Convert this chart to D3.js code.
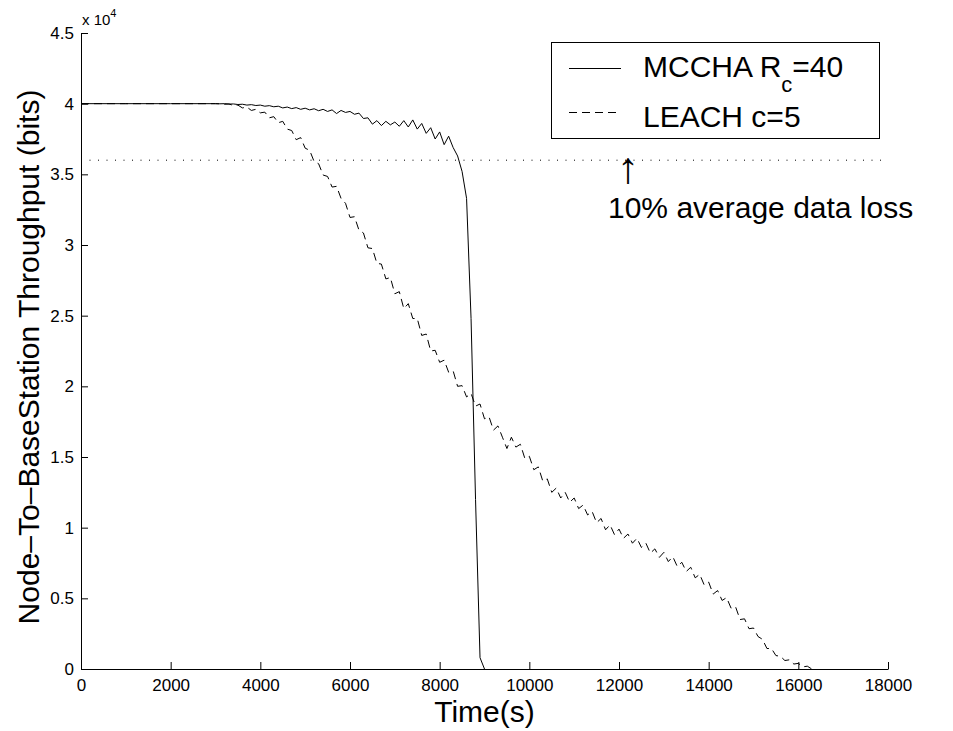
<html>
<head>
<script src="https://d3js.org/d3.v7.min.js"></script>
<style>
  body { margin: 0; background: #fff; }
  svg text { font-family: "Liberation Sans", Arial, Helvetica, sans-serif; fill: #000; }
</style>
</head>
<body>
<svg id="plot"></svg>
<script>
// ---- data ----
// x ticks (seconds) and y ticks (bits, shown as x 10^4)
var xTicks = [0, 2000, 4000, 6000, 8000, 10000, 12000, 14000, 16000, 18000];
var yTicks = [0, 5000, 10000, 15000, 20000, 25000, 30000, 35000, 40000, 45000];
var lossLevel = 36000;   // 10% average data loss line

// MCCHA Rc=40 (solid): flat part, then 100 s steps from 3000 to 9000
var mcchaTime = [0, 1000, 2000].concat(d3.range(3000, 9001, 100));
var mcchaValue = [40000, 40000, 40000,
  40000, 39990, 40000, 39970, 39980, 39940, 39960, 39900, 39930, 39870,
  39900, 39820, 39860, 39780, 39820, 39700, 39760, 39650, 39720, 39600,
  39680, 39560, 39640, 39500, 39600, 39450, 39560, 39300, 39520, 39380,
  39450, 39250, 39330, 38950, 39000, 38550, 38800, 38450, 38750, 38500,
  38700, 38400, 38800, 38350, 38850, 38200, 38600, 37900, 38300, 37500,
  38000, 37100, 37700, 36900, 36300, 35200, 33300, 24800, 12000, 800,
  0];

// LEACH c=5 (dashed): flat part, then 100 s steps from 3000 to 16400
var leachTime = [0, 1000, 2000].concat(d3.range(3000, 16401, 100));
var leachValue = [40000, 40000, 40000,
  40000, 39990, 39960, 39980, 39870, 39900, 39700, 39760, 39520, 39600,
  39350, 39400, 39000, 39080, 38650, 38750, 38200, 38100, 37450, 37600,
  36850, 36700, 35900, 35750, 34950, 34850, 34100, 34150, 33300, 32950,
  31950, 32000, 31050, 30850, 29800, 29750, 28700, 28650, 27600, 27700,
  26550, 26700, 25500, 25850, 24800, 24800, 23600, 23700, 22500, 22550,
  21700, 21850, 21000, 21100, 20000, 20050, 19250, 19500, 18600, 18750,
  17700, 17850, 16900, 17200, 16400, 15600, 16400, 15700, 15900, 14900,
  15050, 14100, 14300, 13300, 13450, 12500, 12800, 12100, 12500, 11800,
  12100, 11350, 11600, 10900, 11150, 10350, 10650, 9850, 10200, 9500,
  9900, 9250, 9550, 8900, 9250, 8600, 8900, 8200, 8500, 7900,
  8250, 7600, 7950, 7250, 7550, 6900, 7200, 6450, 6700, 5950,
  6150, 5300, 5550, 4850, 5050, 4300, 4400, 3500, 3550, 2850,
  2900, 2300, 2100, 1450, 1450, 950, 900, 600, 650, 350,
  400, 150, 200, 0, 0];

var seriesNames = ["MCCHA R", "LEACH c=5"];

// ---- drawing ----
var width = 953;
var height = 731;

var svg = d3.select("#plot")
    .attr("width", width)
    .attr("height", height);

var plotLeft = 81, plotRight = 888, plotTop = 33, plotBottom = 669;

var xScale = d3.scaleLinear()
    .domain([0, 18000])
    .range([plotLeft, plotRight]);

var yScale = d3.scaleLinear()
    .domain([0, 45000])
    .range([plotBottom, plotTop]);

// axes (ticks point inward, no box)
var xAxis = d3.axisBottom(xScale)
    .tickValues(xTicks)
    .tickFormat(d3.format("d"))
    .tickSizeInner(-7)
    .tickSizeOuter(0)
    .tickPadding(10);

var yAxis = d3.axisLeft(yScale)
    .tickValues(yTicks)
    .tickFormat(function(d) { return d / 10000; })
    .tickSizeInner(-7)
    .tickSizeOuter(0)
    .tickPadding(7);

svg.append("g")
    .attr("transform", "translate(0," + plotBottom + ")")
    .call(xAxis);
svg.append("g")
    .attr("transform", "translate(" + plotLeft + ",0)")
    .call(yAxis);

svg.selectAll(".tick text")
    .attr("font-size", 17)
    .attr("font-family", "Liberation Sans, Arial, sans-serif");
svg.selectAll(".domain, .tick line")
    .attr("stroke", "#000")
    .attr("stroke-width", 1);

// exponent label
var expo = svg.append("text")
    .attr("x", plotLeft + 1)
    .attr("y", 25)
    .attr("font-size", 15);
expo.append("tspan").text("x 10");
expo.append("tspan").attr("font-size", 11).attr("dy", -8).text("4");

// dotted 10% loss line
svg.append("line")
    .attr("x1", xScale(0))
    .attr("x2", xScale(18000))
    .attr("y1", yScale(lossLevel))
    .attr("y2", yScale(lossLevel))
    .attr("stroke", "#000")
    .attr("stroke-width", 1)
    .attr("stroke-dasharray", "1,7.5");

var line = d3.line()
    .x(function(d) { return xScale(d[0]); })
    .y(function(d) { return yScale(d[1]); });

var mcchaData = d3.zip(mcchaTime, mcchaValue);
var leachData = d3.zip(leachTime, leachValue);

svg.append("path")
    .datum(leachData)
    .attr("d", line)
    .attr("fill", "none")
    .attr("stroke", "#000")
    .attr("stroke-width", 1)
    .attr("stroke-dasharray", "8,5");

svg.append("path")
    .datum(mcchaData)
    .attr("d", line)
    .attr("fill", "none")
    .attr("stroke", "#000")
    .attr("stroke-width", 1);

// axis titles
svg.append("text")
    .attr("x", (plotLeft + plotRight) / 2)
    .attr("y", 722)
    .attr("text-anchor", "middle")
    .attr("font-size", 30)
    .text("Time(s)");

svg.append("text")
    .attr("transform", "translate(39," + ((plotTop + plotBottom) / 2 + 6) + ") rotate(-90)")
    .attr("text-anchor", "middle")
    .attr("font-size", 30)
    .text("Node–To–BaseStation Throughput (bits)");

// legend
var legend = svg.append("g");
legend.append("rect")
    .attr("x", 551.5).attr("y", 42.5)
    .attr("width", 328).attr("height", 96)
    .attr("fill", "#fff")
    .attr("stroke", "#000")
    .attr("stroke-width", 1);

legend.append("line")
    .attr("x1", 569).attr("x2", 621)
    .attr("y1", 68.5).attr("y2", 68.5)
    .attr("stroke", "#000");
legend.append("line")
    .attr("x1", 569).attr("x2", 621)
    .attr("y1", 112.5).attr("y2", 112.5)
    .attr("stroke", "#000")
    .attr("stroke-dasharray", "8,5");

var t1 = legend.append("text")
    .attr("x", 643).attr("y", 77)
    .attr("font-size", 30);
t1.append("tspan").text(seriesNames[0]);
t1.append("tspan").attr("font-size", 22).attr("dy", 15).text("c");
t1.append("tspan").attr("dy", -15).text("=40");

legend.append("text")
    .attr("x", 643).attr("y", 127)
    .attr("font-size", 30)
    .text(seriesNames[1]);

// annotation
svg.append("text")
    .attr("x", 628).attr("y", 183)
    .attr("text-anchor", "middle")
    .attr("font-size", 44)
    .text("↑");
svg.append("text")
    .attr("x", 608).attr("y", 218)
    .attr("font-size", 30)
    .text("10% average data loss");
</script>
</body>
</html>
